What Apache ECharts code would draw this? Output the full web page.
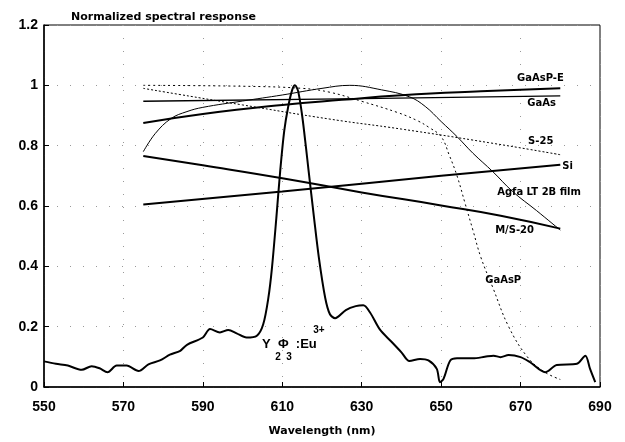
<!DOCTYPE html>
<html>
<head>
<meta charset="utf-8">
<script src="https://cdn.jsdelivr.net/npm/echarts@6/dist/echarts.min.js"></script>
<style>
  html, body { margin: 0; padding: 0; background: #fff; }
  #main { width: 625px; height: 442px; }
</style>
</head>
<body>
<div id="main"></div>
<script>
// Y2O3:Eu3+ emission
var euWl  = [550, 553, 556, 559.5, 562, 564, 566, 568.3, 570.8, 573.8, 576.3, 579.2, 581.7, 584.3, 586, 590, 591.8, 594.3, 596.4, 598.5, 601, 603.6, 605.2, 606.5, 607.4, 608.5, 609.5, 610.5, 611.5, 612.5, 613.2, 614, 615, 616, 616.6, 618, 619.2, 620.8, 622, 623.3, 626, 628.5, 630.4, 632.1, 634.6, 637.5, 640, 642, 644.7, 646.8, 648.9, 649.7, 650.6, 652.3, 654, 658, 661, 663.2, 664.9, 667, 670, 672.4, 676.2, 679.1, 684.2, 686.3, 687.5, 688.8];
var euVal = [0.085, 0.077, 0.071, 0.057, 0.069, 0.062, 0.049, 0.071, 0.071, 0.053, 0.075, 0.088, 0.107, 0.12, 0.14, 0.164, 0.192, 0.181, 0.189, 0.178, 0.164, 0.17, 0.208, 0.296, 0.395, 0.56, 0.72, 0.85, 0.93, 0.985, 1.0, 0.98, 0.9, 0.79, 0.72, 0.56, 0.43, 0.296, 0.241, 0.228, 0.255, 0.268, 0.271, 0.247, 0.19, 0.15, 0.115, 0.086, 0.093, 0.088, 0.06, 0.016, 0.027, 0.088, 0.095, 0.095, 0.1, 0.104, 0.099, 0.106, 0.099, 0.082, 0.049, 0.073, 0.077, 0.104, 0.06, 0.016];

// detector responses
var gaaspeWl  = [575, 590, 610, 625, 640, 660, 680];
var gaaspeVal = [0.875, 0.905, 0.935, 0.952, 0.967, 0.98, 0.99];

var gaasWl  = [575, 630, 680];
var gaasVal = [0.947, 0.956, 0.965];

var s25Wl  = [575, 584, 600, 622, 640, 662, 680];
var s25Val = [0.99, 0.97, 0.935, 0.888, 0.855, 0.81, 0.77];

var siWl  = [575, 610, 650, 680];
var siVal = [0.605, 0.648, 0.70, 0.737];

var agfaWl  = [575, 578, 582, 586, 590, 600, 610, 620, 627, 635, 642, 646, 650, 654, 658, 663, 668, 674, 680];
var agfaVal = [0.78, 0.84, 0.89, 0.913, 0.927, 0.948, 0.968, 0.99, 1.0, 0.985, 0.962, 0.93, 0.88, 0.83, 0.775, 0.714, 0.648, 0.585, 0.52];

var ms20Wl  = [575, 590, 610, 630, 650, 665, 680];
var ms20Val = [0.766, 0.735, 0.692, 0.645, 0.602, 0.568, 0.525];

var gaaspWl  = [575, 600, 615, 622, 630, 639, 644, 647, 650, 652, 654, 656, 658, 660, 663, 667, 671.7, 676, 680];
var gaaspVal = [1.0, 0.997, 0.99, 0.977, 0.947, 0.91, 0.883, 0.86, 0.83, 0.77, 0.7, 0.61, 0.52, 0.43, 0.33, 0.2, 0.1, 0.05, 0.025];

// curve labels: text, wavelength, value
var labelText = ['GaAsP-E', 'GaAs', 'S-25', 'Si', 'Agfa LT 2B film', 'M/S-20', 'GaAsP'];
var labelWl   = [669.1, 671.7, 671.9, 680.5, 664.1, 663.6, 661.1];
var labelVal  = [1.023, 0.941, 0.8125, 0.73, 0.645, 0.52, 0.352];

function zip(a, b) {
    var out = [];
    for (var i = 0; i < a.length; i++) out.push([a[i], b[i]]);
    return out;
}

function line(name, wl, val, width, type, smooth) {
    return {
        name: name,
        type: 'line',
        data: zip(wl, val),
        showSymbol: false,
        smooth: smooth,
        silent: true,
        lineStyle: { color: '#000', width: width, type: type }
    };
}

var myChart = echarts.init(document.getElementById('main'));

var boldNum = { color: '#000', fontFamily: 'Liberation Sans', fontWeight: 'bold', fontSize: 14 };

var option = {
    animation: false,
    backgroundColor: '#fff',
    title: {
        text: 'Normalized spectral response',
        left: 66, top: 7,
        textStyle: { fontFamily: 'DejaVu Sans', fontWeight: 'bold', fontSize: 11, color: '#000' }
    },
    grid: { left: 44, right: 25, top: 25, bottom: 52, show: true, borderColor: '#000', borderWidth: 1 },
    xAxis: {
        type: 'value',
        min: 550, max: 690, interval: 20,
        name: 'Wavelength (nm)',
        nameLocation: 'middle',
        nameGap: 39,
        nameTextStyle: { fontFamily: 'DejaVu Sans', fontWeight: 'bold', fontSize: 11, color: '#000' },
        axisLine: { lineStyle: { color: '#000', width: 1.5 } },
        axisTick: { inside: true, length: 5, lineStyle: { color: '#000' } },
        axisLabel: Object.assign({ margin: 13 }, boldNum),
        splitLine: { show: true, lineStyle: { color: '#999', type: [1, 12], width: 1 } }
    },
    yAxis: {
        type: 'value',
        min: 0, max: 1.2, interval: 0.2,
        axisLine: { show: true, lineStyle: { color: '#000', width: 1.5 } },
        axisTick: { show: true, inside: true, length: 5, lineStyle: { color: '#000' } },
        axisLabel: Object.assign({ margin: 6 }, boldNum),
        splitLine: { show: true, lineStyle: { color: '#999', type: [1, 12], width: 1 } }
    },
    series: [
        line('Y2O3:Eu', euWl, euVal, 2, 'solid', 0.3),
        line('GaAsP-E', gaaspeWl, gaaspeVal, 2, 'solid', true),
        line('GaAs', gaasWl, gaasVal, 1.4, 'solid', false),
        line('S-25', s25Wl, s25Val, 1, [2, 2], true),
        line('Si', siWl, siVal, 2, 'solid', true),
        line('Agfa LT 2B film', agfaWl, agfaVal, 1, 'solid', 0.4),
        line('M/S-20', ms20Wl, ms20Val, 2, 'solid', true),
        line('GaAsP', gaaspWl, gaaspVal, 1, [2, 3], 0.4)
    ]
};

myChart.setOption(option);

// place the text labels at data coordinates
var lblFont = 'bold 10px "DejaVu Sans"';
var graphics = [];
for (var i = 0; i < labelText.length; i++) {
    var p = myChart.convertToPixel({ gridIndex: 0 }, [labelWl[i], labelVal[i]]);
    graphics.push({
        type: 'text', x: p[0], y: p[1],
        style: { text: labelText[i], font: lblFont, fill: '#000', textVerticalAlign: 'middle' }
    });
}
var pEu = myChart.convertToPixel({ gridIndex: 0 }, [604.9, 0.141]);
var pSub = myChart.convertToPixel({ gridIndex: 0 }, [608.2, 0.099]);
var pSup = myChart.convertToPixel({ gridIndex: 0 }, [617.8, 0.1875]);
graphics.push({ type: 'text', x: pEu[0], y: pEu[1],
    style: { text: 'Y  Φ  :Eu', font: 'bold 13px "Liberation Sans"', fill: '#000', textVerticalAlign: 'middle' } });
graphics.push({ type: 'text', x: pSub[0], y: pSub[1],
    style: { text: '2  3', font: 'bold 10px "Liberation Sans"', fill: '#000', textVerticalAlign: 'middle' } });
graphics.push({ type: 'text', x: pSup[0], y: pSup[1],
    style: { text: '3+', font: 'bold 10px "Liberation Sans"', fill: '#000', textVerticalAlign: 'middle' } });

myChart.setOption({ graphic: graphics });
</script>
</body>
</html>
